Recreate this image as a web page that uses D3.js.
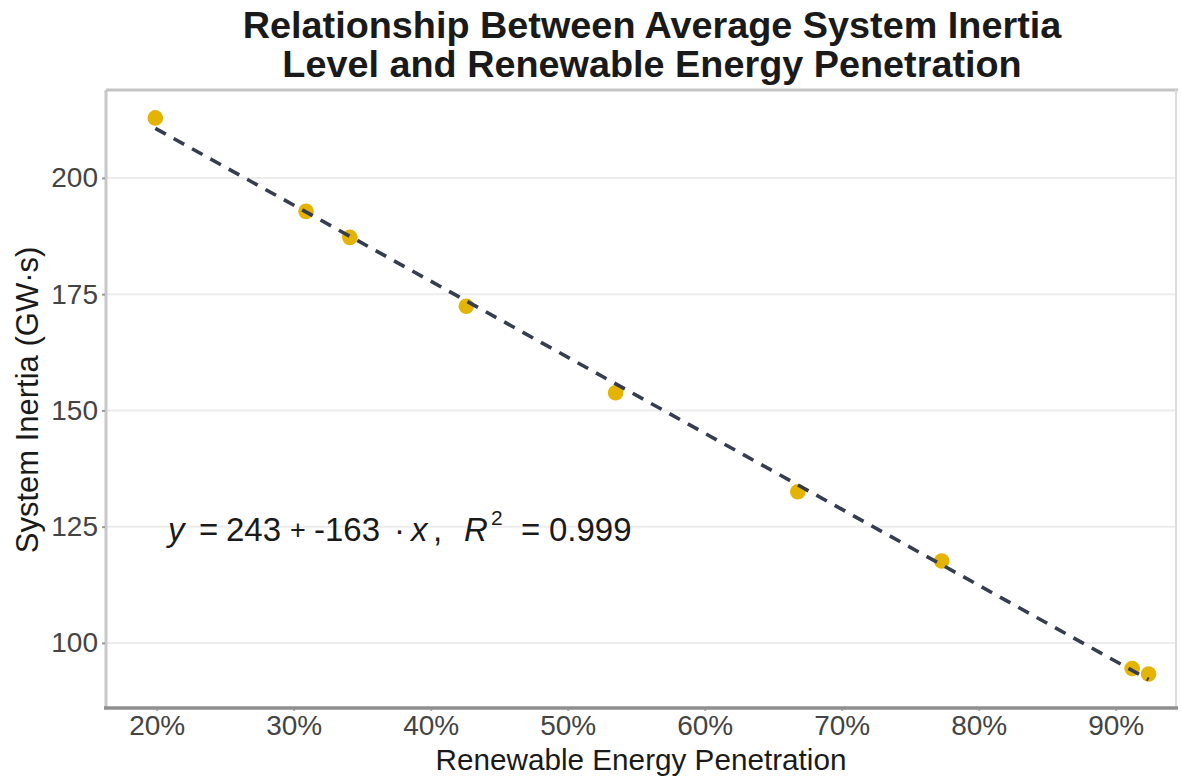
<!DOCTYPE html>
<html>
<head>
<meta charset="utf-8">
<script src="https://cdn.jsdelivr.net/npm/d3@7"></script>
<style>
  html, body { margin: 0; padding: 0; background: #ffffff; }
  svg { display: block; font-family: "Liberation Sans", Arial, Helvetica, sans-serif; }
</style>
</head>
<body>
<svg id="chart" width="1181" height="776"></svg>
<script>
// Renewable energy penetration (share) and average system inertia (GW·s)
const penetration = [0.199, 0.309, 0.341, 0.426, 0.535, 0.668, 0.773, 0.912, 0.924];
const inertia     = [212.9, 192.8, 187.2, 172.4, 153.8, 132.5, 117.6, 94.5, 93.3];

const xTicks = [0.2, 0.3, 0.4, 0.5, 0.6, 0.7, 0.8, 0.9];
const yTicks = [100, 125, 150, 175, 200];

const titleLines = [
  "Relationship Between Average System Inertia",
  "Level and Renewable Energy Penetration"
];
const xTitle = "Renewable Energy Penetration";
const yTitle = "System Inertia (GW·s)";

// Regression equation, piece by piece (text, italic, superscript, x position)
const eqPieces = [
  { t: "y",     it: true,  x: 168 },
  { t: "=",     it: false, x: 199 },
  { t: "243",   it: false, x: 226 },
  { t: "+",     it: false, x: 290, small: true },
  { t: "-163",  it: false, x: 314 },
  { t: "·",     it: false, x: 394 },
  { t: "x",     it: true,  x: 411 },
  { t: ",",     it: false, x: 433 },
  { t: "R",     it: true,  x: 464 },
  { t: "2",     it: false, x: 491, sup: true },
  { t: "=",     it: false, x: 521 },
  { t: "0.999", it: false, x: 549 }
];

const svg = d3.select("#chart");

const panel = { left: 106, right: 1176, top: 90, bottom: 708 };

const x = d3.scaleLinear().domain([0.163, 0.944]).range([panel.left, panel.right]);
const y = d3.scaleLinear().domain([86, 218.9]).range([panel.bottom, panel.top]);

// Horizontal grid lines at major y breaks
svg.append("g")
  .selectAll("line")
  .data(yTicks)
  .join("line")
  .attr("x1", panel.left).attr("x2", panel.right)
  .attr("y1", d => y(d)).attr("y2", d => y(d))
  .attr("stroke", "#ececec")
  .attr("stroke-width", 2);

// Panel frame: light top/left/right, darker bottom axis line
svg.append("line")
  .attr("x1", panel.left).attr("x2", panel.right + 2)
  .attr("y1", panel.top).attr("y2", panel.top)
  .attr("stroke", "#c4c4c4").attr("stroke-width", 3);
svg.append("line")
  .attr("x1", panel.right).attr("x2", panel.right)
  .attr("y1", panel.top).attr("y2", panel.bottom)
  .attr("stroke", "#dcdcdc").attr("stroke-width", 2);
svg.append("line")
  .attr("x1", panel.left).attr("x2", panel.left)
  .attr("y1", panel.top).attr("y2", panel.bottom)
  .attr("stroke", "#c8c8c8").attr("stroke-width", 3);

// Y axis
const yAxis = svg.append("g")
  .attr("transform", `translate(${panel.left - 1},0)`)
  .call(d3.axisLeft(y).tickValues(yTicks).tickSize(3).tickPadding(4).tickFormat(d3.format("d")));
yAxis.select(".domain").remove();
yAxis.selectAll(".tick line").attr("stroke", "#9a9a9a").attr("stroke-width", 2);
yAxis.selectAll(".tick text")
  .attr("font-size", 28)
  .attr("fill", "#444444")
  .attr("font-family", "Liberation Sans, Arial, sans-serif");

// X axis
const xAxis = svg.append("g")
  .attr("transform", `translate(0,${panel.bottom})`)
  .call(d3.axisBottom(x).tickValues(xTicks).tickSize(3).tickPadding(4).tickFormat(d3.format(".0%")));
xAxis.select(".domain").remove();
xAxis.selectAll(".tick line").attr("stroke", "#b0b0b0").attr("stroke-width", 2);
xAxis.selectAll(".tick text")
  .attr("font-size", 28)
  .attr("fill", "#444444")
  .attr("font-family", "Liberation Sans, Arial, sans-serif");

svg.append("line")
  .attr("x1", panel.left - 2).attr("x2", panel.right + 2)
  .attr("y1", panel.bottom).attr("y2", panel.bottom)
  .attr("stroke", "#8f8f8f").attr("stroke-width", 3.5);

// Least-squares fit of inertia on penetration
const mx = d3.mean(penetration), my = d3.mean(inertia);
const sxy = d3.sum(penetration, (v, i) => (v - mx) * (inertia[i] - my));
const sxx = d3.sum(penetration, v => (v - mx) * (v - mx));
const slope = sxy / sxx;
const intercept = my - slope * mx;
const fitEnds = d3.extent(penetration).map(v => ({ px: v, val: intercept + slope * v }));

// Observed points
svg.append("g")
  .selectAll("circle")
  .data(penetration.map((p, i) => ({ p, v: inertia[i] })))
  .join("circle")
  .attr("cx", d => x(d.p))
  .attr("cy", d => y(d.v))
  .attr("r", 7.8)
  .attr("fill", "#e4b404");

// Dashed regression line
svg.append("path")
  .datum(fitEnds)
  .attr("d", d3.line().x(d => x(d.px)).y(d => y(d.val)))
  .attr("fill", "none")
  .attr("stroke", "#363d4f")
  .attr("stroke-width", 3.6)
  .attr("stroke-dasharray", "12,9");

// Regression equation annotation
svg.append("g")
  .selectAll("text")
  .data(eqPieces)
  .join("text")
  .attr("x", d => d.x)
  .attr("y", d => d.sup ? 525 : (d.small ? 539 : 541))
  .attr("font-size", d => d.sup ? 21 : (d.small ? 27 : 33))
  .attr("font-style", d => d.it ? "italic" : "normal")
  .attr("fill", "#1a1a1a")
  .text(d => d.t);

// Title
svg.append("g")
  .selectAll("text")
  .data(titleLines)
  .join("text")
  .attr("x", 652)
  .attr("y", (d, i) => 38 + i * 39)
  .attr("text-anchor", "middle")
  .attr("font-size", 37.8)
  .attr("font-weight", "bold")
  .attr("fill", "#1a1a1a")
  .text(d => d);

// Axis titles
svg.append("text")
  .attr("x", 641).attr("y", 770)
  .attr("text-anchor", "middle")
  .attr("font-size", 29.7)
  .attr("fill", "#1a1a1a")
  .text(xTitle);

svg.append("text")
  .attr("transform", "translate(38,400) rotate(-90)")
  .attr("text-anchor", "middle")
  .attr("font-size", 31)
  .attr("fill", "#1a1a1a")
  .text(yTitle);
</script>
</body>
</html>
